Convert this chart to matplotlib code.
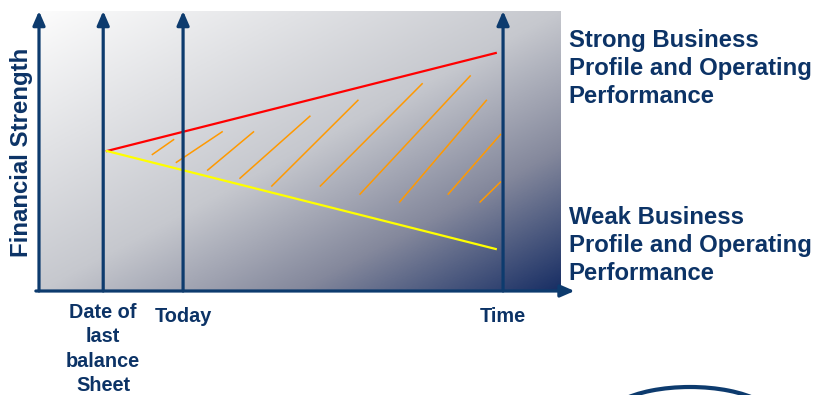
import numpy as np
import matplotlib
matplotlib.use('Agg')
import matplotlib.pyplot as plt
from matplotlib.colors import LinearSegmentedColormap
from matplotlib.patches import Arc

plt.rcParams['font.family'] = ['Liberation Sans', 'DejaVu Sans']
plt.rcParams['font.weight'] = 'bold'

navy = '#0c3366'
arrow_col = '#0d3b6e'

# time markers on the horizontal axis (0..100 scale)
time_pos = [12.3, 27.6, 88.9]
time_labels = ['Date of\nlast\nbalance\nSheet', 'Today', 'Time']
label_drop = [-4.15, -5.7, -5.7]

# outlook cone from the last balance sheet date
start = (13.0, 50.0)
end_x = 87.5
strong_end = 85.0
weak_end = 15.0

# hatch strokes between the two outlooks
hatch_x0 = [21.6, 26.2, 32.2, 38.4, 44.5, 53.8, 61.4, 69.0, 78.3, 84.4]
hatch_y0 = [48.6, 45.8, 43.0, 40.1, 37.3, 37.3, 34.4, 31.6, 34.4, 31.6]
hatch_x1 = [25.9, 35.2, 41.2, 52.0, 61.2, 73.5, 82.7, 85.8, 88.5, 88.5]
hatch_y1 = [54.2, 57.0, 57.0, 62.6, 68.3, 74.2, 77.0, 68.3, 56.1, 39.1]

fig = plt.figure(figsize=(8.19, 3.95), dpi=100)
ax = fig.add_axes([39 / 819, 1 - 291 / 395, 522 / 819, 280 / 395])
ax.set_xlim(0, 100)
ax.set_ylim(0, 100)
ax.axis('off')

# background: diagonal fade from white to navy
cmap = LinearSegmentedColormap.from_list('bg', [
    (0.0, (252/255, 252/255, 252/255)),
    (0.5, (198/255, 200/255, 206/255)),
    (0.75, (132/255, 136/255, 156/255)),
    (1.0, (24/255, 46/255, 100/255)),
])
u, v = np.meshgrid(np.linspace(0, 1, 400), np.linspace(0, 1, 300))
ax.imshow((u + v) / 2, cmap=cmap, extent=(0, 100, 0, 100), origin='upper',
          aspect='auto', zorder=0, interpolation='bilinear')

for x0, y0, x1, y1 in zip(hatch_x0, hatch_y0, hatch_x1, hatch_y1):
    ax.plot([x0, x1], [y0, y1], color='#ff9900', lw=1.1, zorder=2,
            solid_capstyle='butt')

ax.plot([start[0], end_x], [start[1], strong_end], color='#ff0000', lw=1.6, zorder=3)
ax.plot([start[0], end_x], [start[1], weak_end], color='#ffff00', lw=1.6, zorder=3)

arrow_kw = dict(arrowstyle='-|>,head_length=0.6,head_width=0.26', lw=2.3,
                color=arrow_col, shrinkA=0, shrinkB=0, mutation_scale=14)
for x in [0] + time_pos:
    ax.annotate('', xy=(x, 100), xytext=(x, 0), arrowprops=arrow_kw,
                annotation_clip=False, zorder=4)
ax.annotate('', xy=(102.6, 0), xytext=(-0.6, 0), arrowprops=arrow_kw,
            annotation_clip=False, zorder=4)

for x, lab, dy in zip(time_pos, time_labels, label_drop):
    ax.text(x, dy, lab, ha='center', va='top', fontsize=14.3, color=navy,
            linespacing=1.37, clip_on=False)

ax.text(-3.4, 49.6, 'Financial Strength', rotation=90, ha='center', va='center',
        fontsize=17.3, color=navy, clip_on=False)

ax.text(101.5, 93.4, 'Strong Business\nProfile and Operating\nPerformance',
        ha='left', va='top', fontsize=17.2, color=navy, linespacing=1.27,
        clip_on=False)
ax.text(101.5, 30.4, 'Weak Business\nProfile and Operating\nPerformance',
        ha='left', va='top', fontsize=17.2, color=navy, linespacing=1.27,
        clip_on=False)

# partial logo swoosh at the bottom edge
logo = Arc((690 / 819, -25 / 395), 170 / 819, 66 / 395, theta1=30, theta2=150,
           transform=fig.transFigure, color=arrow_col, lw=3)
fig.add_artist(logo)

fig.savefig('out.png', dpi=100)
